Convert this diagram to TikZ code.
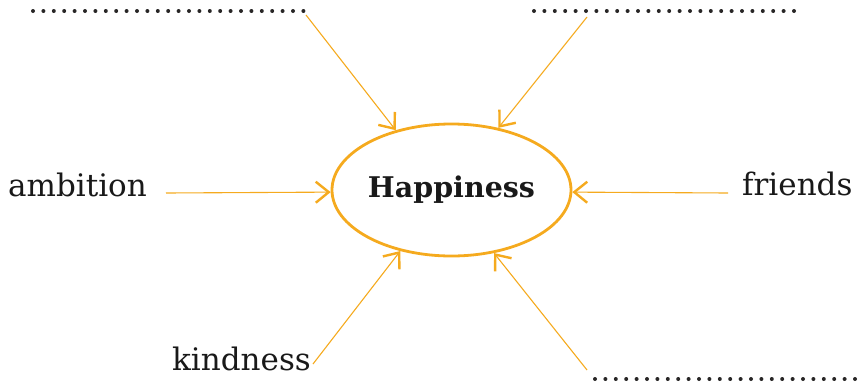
\documentclass[tikz,border=0pt]{standalone}
\usepackage{fontspec}
\setmainfont{DejaVu Serif}
\usetikzlibrary{arrows.meta, shapes.geometric}
\definecolor{hapOrange}{RGB}{245,170,30}
\definecolor{dotGray}{RGB}{40,38,38}

\begin{document}
\begin{tikzpicture}[x=1pt, y=-1pt,
  word/.style  = {font=\fontsize{31}{36}\selectfont, text=black!90,
                  inner sep=0pt, anchor=base west},
  hub/.style   = {ellipse, draw=hapOrange, line width=2.8pt, inner sep=0pt,
                  minimum width=239pt, minimum height=132pt,
                  font=\bfseries\fontsize{28.5}{32}\selectfont, text=black!90},
  arr/.style   = {hapOrange, line width=1.1pt,
                  -{Straight Barb[length=13pt, width=21pt, line width=2.4pt]}},
  blank/.style = {dotGray, line width=4pt, line cap=round,
                  dash pattern=on 0pt off 10.4pt},
]
\useasboundingbox (0,0) rectangle (863,386);

% -- Centre -----------------------------------------------------------------
\node[hub] (hap) at (451.5,190) {Happiness};

% -- Words and blanks -------------------------------------------------------
\node[word] (amb)  at (8,196)   {ambition};
\node[word] (frd)  at (742,195) {friends};
\node[word] (kind) at (172,370) {kindness};

\draw[blank] (33,11)  -- (304,11);
\draw[blank] (534,11) -- (803,11);
\draw[blank] (595,379) -- (855,379);

% -- Arrow tails ------------------------------------------------------------
\coordinate (tlTail) at (306,15);
\coordinate (trTail) at (587,17);
\coordinate (ambTail) at (166,193);
\coordinate (frdTail) at (728,193);
\coordinate (kindTail) at (313,364);
\coordinate (brTail) at (587,370);

\draw[arr] (tlTail)   -- (hap.133);
\draw[arr] (trTail)   -- (hap.53);
\draw[arr] (ambTail)  -- (hap.181);
\draw[arr] (frdTail)  -- (hap.359);
\draw[arr] (kindTail) -- (hap.230);
\draw[arr] (brTail)   -- (hap.304);

\end{tikzpicture}
\end{document}
